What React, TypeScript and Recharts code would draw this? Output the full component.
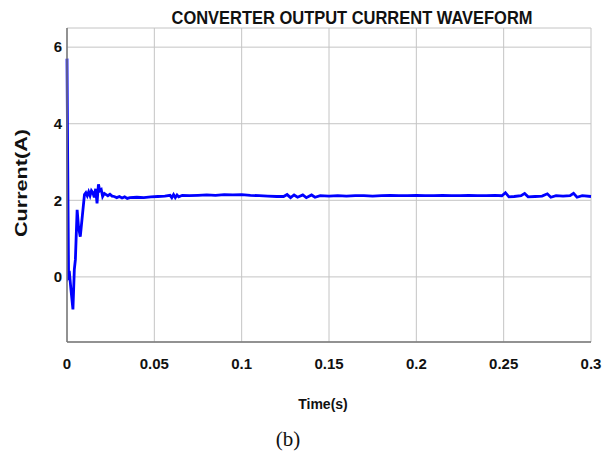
import { CartesianGrid, Line, LineChart, XAxis, YAxis } from 'recharts'

// converter output current, sampled by hand from the scope trace
const times = [
  0, 0.0004, 0.0009, 0.0015, 0.0022, 0.0034, 0.0042, 0.0048, 0.0058, 0.0066, 0.0076, 0.0088,
  0.01, 0.0108, 0.0116, 0.0124, 0.0132, 0.014, 0.0148, 0.0156, 0.0164, 0.0172, 0.018, 0.0188,
  0.0196, 0.0204, 0.0214, 0.0224, 0.0234, 0.0246, 0.0258, 0.027, 0.0285, 0.03, 0.0315, 0.033,
  0.0345, 0.036, 0.04, 0.044, 0.048, 0.052, 0.056, 0.059, 0.06, 0.061, 0.062, 0.063, 0.064,
  0.066, 0.07, 0.075, 0.08, 0.085, 0.09, 0.095, 0.1, 0.105, 0.11, 0.115, 0.12, 0.124, 0.126,
  0.128, 0.13, 0.132, 0.135, 0.137, 0.14, 0.142, 0.145, 0.15, 0.155, 0.16, 0.165, 0.17, 0.175,
  0.18, 0.185, 0.19, 0.195, 0.2, 0.205, 0.21, 0.215, 0.22, 0.225, 0.23, 0.235, 0.24, 0.245,
  0.249, 0.251, 0.253, 0.256, 0.26, 0.262, 0.264, 0.268, 0.272, 0.275, 0.277, 0.28, 0.284,
  0.288, 0.29, 0.292, 0.295, 0.3,
]
const current = [
  5.7, 3.0, 0.0, 0.05, -0.3, -0.85, 0.2, 0.45, 1.75, 1.3, 1.05, 1.6,
  2.15, 2.2, 2.12, 2.22, 2.12, 2.25, 2.2, 2.08, 2.3, 1.92, 2.42, 2.25,
  2.28, 2.1, 2.18, 2.15, 2.12, 2.16, 2.11, 2.1, 2.07, 2.1, 2.06, 2.09,
  2.05, 2.07, 2.08, 2.07, 2.09, 2.1, 2.11, 2.13, 2.07, 2.15, 2.07, 2.14, 2.09,
  2.13, 2.12, 2.13, 2.14, 2.13, 2.15, 2.14, 2.15, 2.13, 2.12, 2.11, 2.1, 2.1, 2.15,
  2.07, 2.14, 2.08, 2.14, 2.07, 2.14, 2.08, 2.12, 2.11, 2.12, 2.11, 2.12, 2.12, 2.11,
  2.12, 2.13, 2.12, 2.12, 2.13, 2.12, 2.12, 2.13, 2.12, 2.12, 2.13, 2.12, 2.12, 2.13,
  2.12, 2.2, 2.09, 2.1, 2.12, 2.18, 2.09, 2.1, 2.11, 2.17, 2.08, 2.12, 2.11,
  2.12, 2.18, 2.08, 2.12, 2.1,
]

const xTicks = [0, 0.05, 0.1, 0.15, 0.2, 0.25, 0.3]
const yTicks = [0, 2, 4, 6]

const title = 'CONVERTER OUTPUT CURRENT WAVEFORM'
const xLabel = 'Time(s)'
const yLabel = 'Current(A)'
const caption = '(b)'

const data = times.map((t, i) => ({ t, i: current[i] }))

const font = '"Liberation Sans", Arial, sans-serif'
const tickStyle = { fontFamily: font, fontWeight: 700, fontSize: 15, fill: '#111' }
const frame = '#777'

export default function App() {
  return (
    <div style={{ position: 'absolute', left: 0, top: 0, width: 611, height: 459, background: '#fff' }}>
      <LineChart width={611} height={459} data={data} margin={{ top: 28, right: 20, left: 0, bottom: 87 }}>
        <CartesianGrid stroke="#c4c4c4" strokeWidth={1} />
        <XAxis
          dataKey="t"
          type="number"
          domain={[0, 0.3]}
          ticks={xTicks}
          height={30}
          tickSize={0}
          tickMargin={16}
          tick={tickStyle}
          stroke={frame}
          strokeWidth={1.5}
          tickFormatter={(v: number) => String(v)}
        />
        <XAxis xAxisId="top" orientation="top" dataKey="t" type="number" domain={[0, 0.3]} height={0} tick={false} tickLine={false} stroke={frame} strokeWidth={1.5} />
        <YAxis
          type="number"
          domain={[-1.7, 6.5]}
          ticks={yTicks}
          width={67}
          tickSize={0}
          tickMargin={5}
          tick={tickStyle}
          stroke={frame}
          strokeWidth={1.5}
        />
        <YAxis yAxisId="right" orientation="right" type="number" domain={[-1.7, 6.5]} width={0} tick={false} tickLine={false} stroke={frame} strokeWidth={2} />
        <Line
          dataKey="i"
          stroke="#0000ff"
          strokeWidth={2.8}
          dot={false}
          type="linear"
          isAnimationActive={false}
        />
      </LineChart>
      <svg width={611} height={459} style={{ position: 'absolute', left: 0, top: 0, pointerEvents: 'none' }}>
        <text x={352} y={24} textAnchor="middle" fontFamily={font} fontWeight={700} fontSize={18} textLength={361} lengthAdjust="spacingAndGlyphs" fill="#111">
          {title}
        </text>
        <text x={323} y={409} textAnchor="middle" fontFamily={font} fontWeight={700} fontSize={14} fill="#111">
          {xLabel}
        </text>
        <text
          x={0}
          y={0}
          transform="translate(27,183) rotate(-90)"
          textAnchor="middle"
          fontFamily={font}
          fontWeight={700}
          fontSize={17}
          textLength={108}
          lengthAdjust="spacingAndGlyphs"
          fill="#111"
        >
          {yLabel}
        </text>
        <text x={288} y={446} textAnchor="middle" fontFamily='"Liberation Serif", "Times New Roman", serif' fontSize={21} fill="#111">
          {caption}
        </text>
      </svg>
    </div>
  )
}
